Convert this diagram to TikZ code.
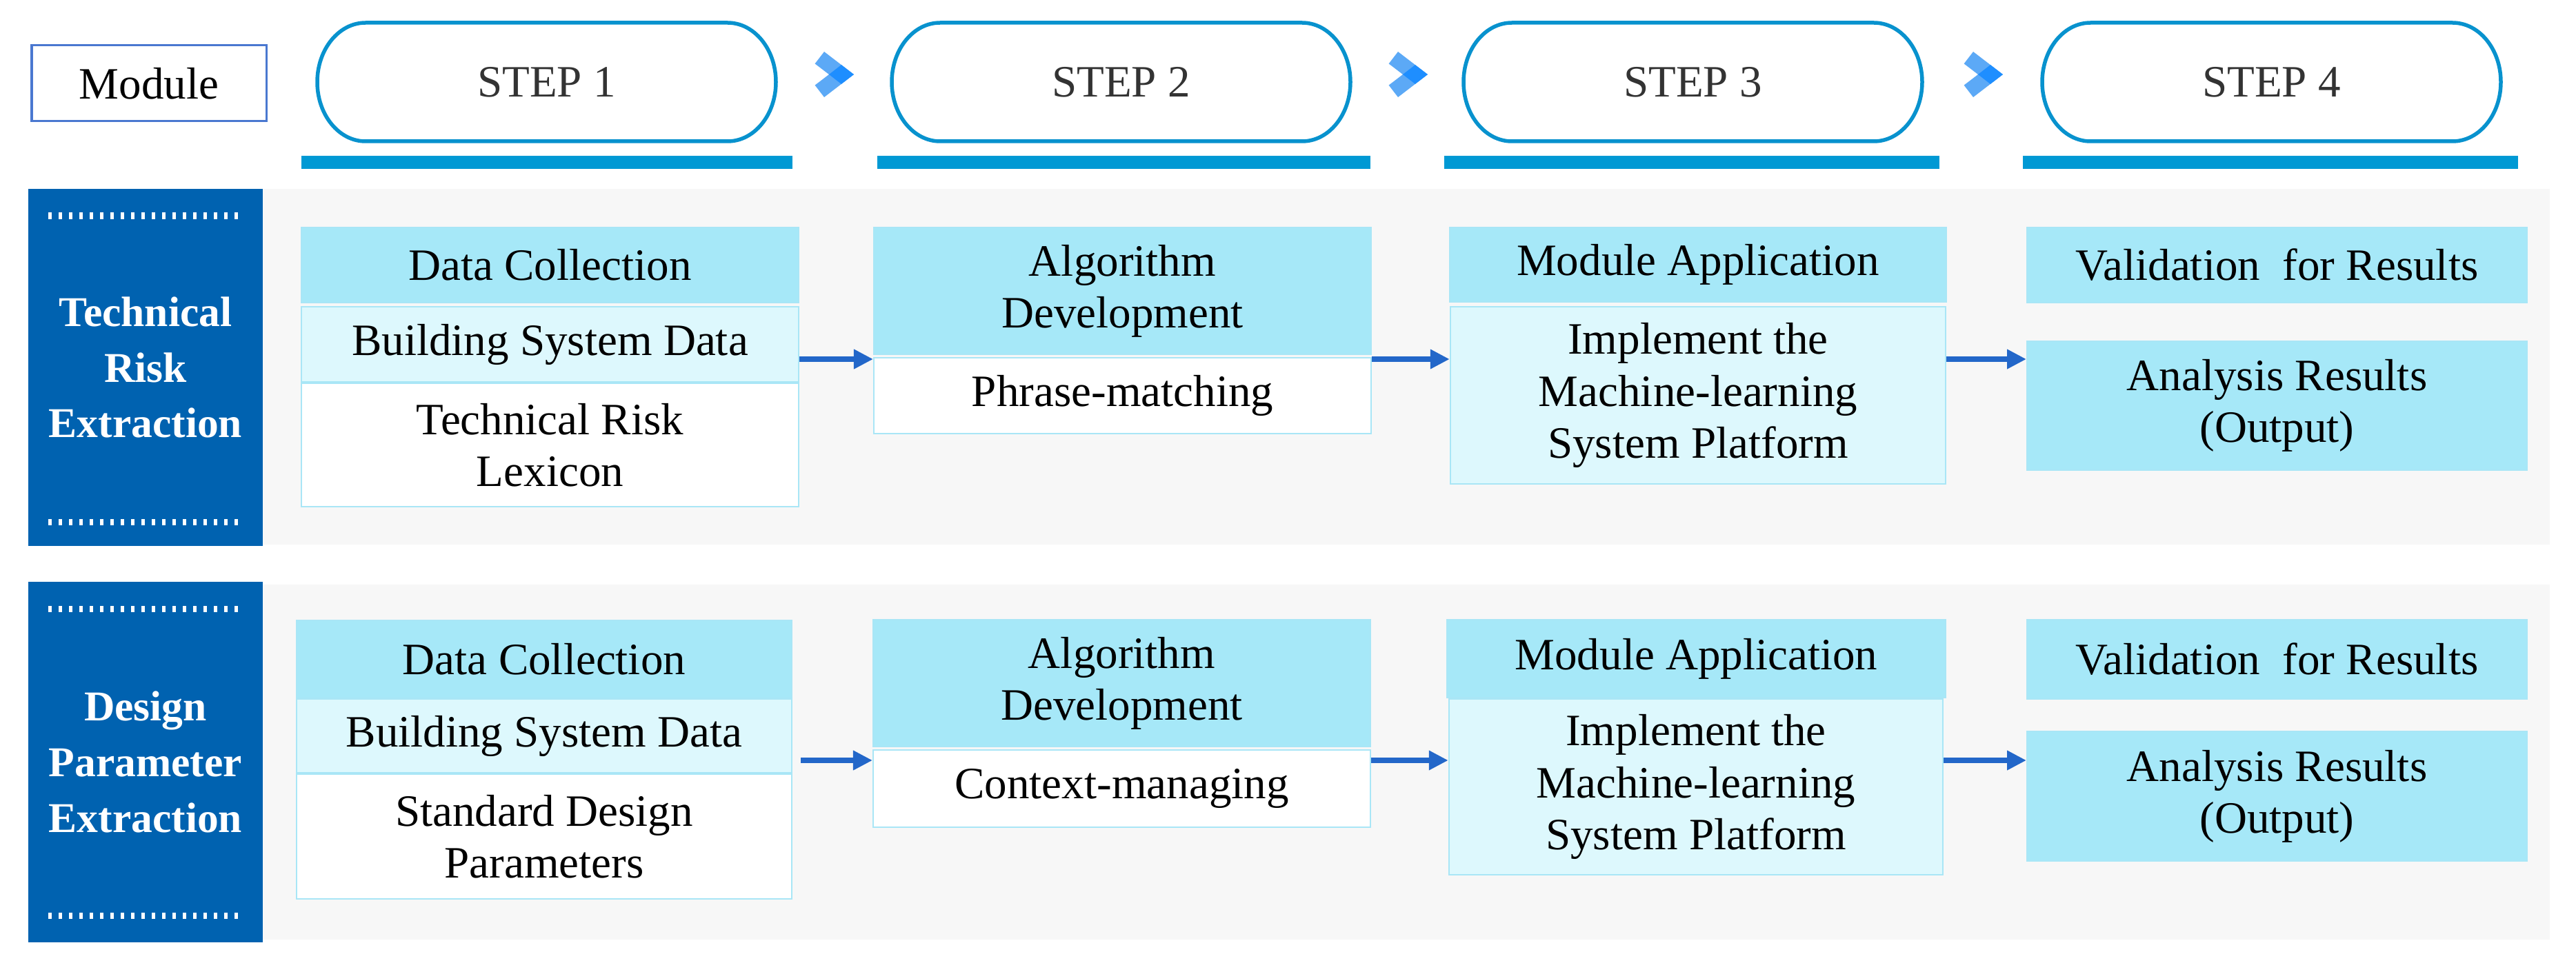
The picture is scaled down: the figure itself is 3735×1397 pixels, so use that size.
\documentclass[tikz,border=0pt]{standalone}
\usepackage{fontspec}
\setmainfont{Liberation Serif}
\usetikzlibrary{arrows.meta}
\definecolor{hdrc}{HTML}{A6E8F8}
\definecolor{subc}{HTML}{DDF8FD}
\definecolor{edgec}{HTML}{A9E6F6}
\definecolor{bluec}{HTML}{0062B0}
\definecolor{grayc}{HTML}{F7F7F7}
\definecolor{pillc}{HTML}{0892CE}
\definecolor{barc}{HTML}{0099D4}
\definecolor{chevc}{HTML}{5CA9F6}
\definecolor{chevd}{HTML}{1E8EFF}
\definecolor{arrc}{HTML}{2367C9}
\definecolor{modc}{HTML}{4A78D0}
\definecolor{stepc}{HTML}{333333}
\newcommand\mybox[7]{\node[#2,minimum width={(#5-#3)*0.01cm},minimum height={(#6-#4)*0.01cm}] (#1) at ({(#3+#5)/2},{(#4+#6)/2}) {#7};}
\newcommand\mypill[4]{%
  \draw[pillshape] ({#1+70},33) -- ({#2-70},33) arc[start angle=-90,end angle=90,x radius=70,y radius=86] -- ({#1+70},205) arc[start angle=90,end angle=270,x radius=70,y radius=86] -- cycle;
  \node[text=stepc] (#3) at ({(#1+#2)/2},119) {#4};}
\newcommand\mychev[1]{%
  \fill[chevc] ({#1+4.6},92.4) -- ({#1+18},75) -- ({#1+61},108) -- ({#1+18},141) -- ({#1+4.6},123.6) -- ({#1+25},108) -- cycle;
  \fill[chevd] ({#1+25},108) -- ({#1+42.9},94.1) -- ({#1+61},108) -- ({#1+42.9},121.9) -- cycle;}
\begin{document}
\begin{tikzpicture}[x=0.01cm,y=-0.01cm,
  every node/.style={inner sep=0pt, align=center, font=\fontsize{18.5}{21.4}\selectfont},
  hdrbox/.style={fill=hdrc, draw=edgec, line width=0.02cm},
  subbox/.style={fill=subc, draw=edgec, line width=0.025cm},
  whtbox/.style={fill=white, draw=edgec, line width=0.025cm},
  modbox/.style={fill=bluec, text=white, font=\fontsize{17.5}{23}\selectfont\bfseries},
  flowarr/.style={draw=arrc, line width=0.085cm, -{Triangle[length=0.28cm,width=0.27cm]}},
  dotline/.style={draw=white, line width=0.09cm, dash pattern=on 0.045cm off 0.105cm},
  pillshape/.style={draw=pillc, line width=0.055cm, fill=white},
  stepbar/.style={fill=barc}]
\useasboundingbox (0,0) rectangle (3735,1397);
\fill[white] (0,0) rectangle (3735,1397);
% panels
\fill[grayc] (381,274) rectangle (3697,790);
\fill[grayc] (381,848) rectangle (3697,1363);
\mybox{m1}{modbox}{41}{274}{381}{792}{Technical\\Risk\\Extraction}
\mybox{m2}{modbox}{41}{844}{381}{1367}{Design\\Parameter\\Extraction}
\draw[dotline] (70,313) -- (347,313);
\draw[dotline] (70,757) -- (347,757);
\draw[dotline] (70,883) -- (347,883);
\draw[dotline] (70,1328) -- (347,1328);
% header row
\mybox{mod}{draw=modc, line width=0.03cm, fill=white}{46}{66}{386}{176}{Module}
\mypill{460}{1125}{s1}{STEP 1}
\mypill{1293}{1958}{s2}{STEP 2}
\mypill{2122}{2787}{s3}{STEP 3}
\mypill{2961}{3626}{s4}{STEP 4}
\fill[stepbar] (437,226) rectangle (1149,245);
\fill[stepbar] (1272,226) rectangle (1987,245);
\fill[stepbar] (2094,226) rectangle (2812,245);
\fill[stepbar] (2933,226) rectangle (3651,245);
\mychev{1177}
\mychev{2009}
\mychev{2843}
% row 1
\mybox{dc1}{hdrbox}{437}{330}{1158}{439}{Data Collection}
\mybox{bsd1}{subbox}{437}{445}{1158}{554}{Building System Data}
\mybox{trl1}{whtbox}{437}{556}{1158}{735}{Technical Risk\\Lexicon}
\mybox{ad1}{hdrbox}{1267}{330}{1988}{514}{Algorithm\\Development}
\mybox{pm1}{whtbox}{1267}{519}{1988}{629}{Phrase-matching}
\mybox{ma1}{hdrbox}{2102}{330}{2822}{438}{Module Application}
\mybox{im1}{subbox}{2103}{445}{2821}{702}{Implement the\\Machine-learning\\System Platform}
\mybox{vr1}{hdrbox}{2939}{330}{3664}{439}{Validation\ \ for Results}
\mybox{ar1}{hdrbox}{2939}{495}{3664}{682}{Analysis Results\\(Output)}
\coordinate (ay1) at (0,521);
\draw[flowarr] (bsd1.east |- ay1) -- (ad1.west |- ay1);
\draw[flowarr] (pm1.east |- ay1) -- (im1.west |- ay1);
\draw[flowarr] (im1.east |- ay1) -- (ar1.west |- ay1);
% row 2
\mybox{dc2}{hdrbox}{430}{900}{1148}{1013}{Data Collection}
\mybox{bsd2}{subbox}{430}{1014}{1148}{1121}{Building System Data}
\mybox{sdp2}{whtbox}{430}{1123}{1148}{1304}{Standard Design\\Parameters}
\mybox{ad2}{hdrbox}{1266}{899}{1987}{1083}{Algorithm\\Development}
\mybox{cm2}{whtbox}{1266}{1088}{1987}{1200}{Context-managing}
\mybox{ma2}{hdrbox}{2098}{899}{2821}{1012}{Module Application}
\mybox{im2}{subbox}{2101}{1014}{2817}{1269}{Implement the\\Machine-learning\\System Platform}
\mybox{vr2}{hdrbox}{2939}{899}{3664}{1014}{Validation\ \ for Results}
\mybox{ar2}{hdrbox}{2939}{1061}{3664}{1249}{Analysis Results\\(Output)}
\coordinate (ay2) at (0,1103);
\draw[flowarr, shorten <=0.12cm] (bsd2.east |- ay2) -- (ad2.west |- ay2);
\draw[flowarr] (cm2.east |- ay2) -- (im2.west |- ay2);
\draw[flowarr] (im2.east |- ay2) -- (ar2.west |- ay2);
\end{tikzpicture}
\end{document}
